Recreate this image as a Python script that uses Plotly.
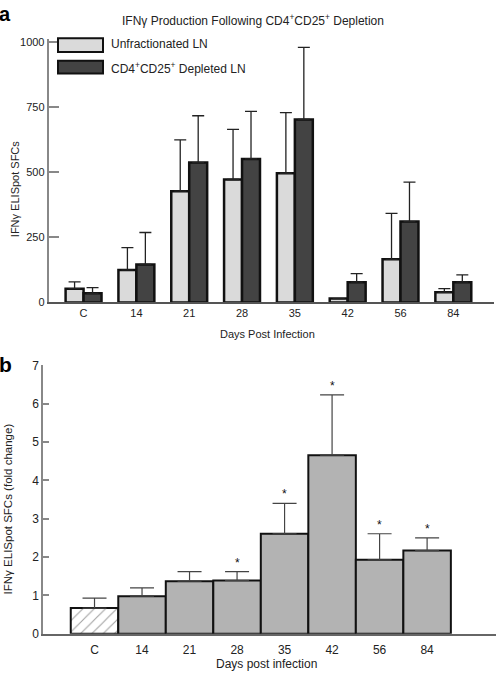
import plotly.graph_objects as go

W, H = 496, 678

days = ["C", "14", "21", "28", "35", "42", "56", "84"]

# Panel a
unfrac_vals = [53, 125, 428, 473, 497, 15, 166, 39]
unfrac_err = [26, 86, 197, 193, 233, 0, 177, 14]
depleted_vals = [35, 146, 538, 552, 704, 78, 311, 78]
depleted_err = [22, 123, 180, 183, 277, 33, 152, 28]
a_yticks = [0, 250, 500, 750, 1000]

# Panel b
fold_vals = [0.67, 0.98, 1.37, 1.39, 2.61, 4.66, 1.93, 2.17]
fold_err = [0.26, 0.22, 0.25, 0.23, 0.79, 1.57, 0.68, 0.33]
fold_sig = [False, False, False, True, True, True, True, True]
b_yticks = [0, 1, 2, 3, 4, 5, 6, 7]

FONT = "Liberation Sans, Arial, sans-serif"
TXT = "#222222"


def px(x):
    return x / W


def py(y):
    return 1 - y / H


fig = go.Figure()

fig.add_trace(go.Bar(
    x=days, y=unfrac_vals, name="Unfractionated LN",
    marker=dict(color="#dadada", line=dict(color="#111111", width=2.5)),
    error_y=dict(type="data", array=unfrac_err, arrayminus=[0] * len(days), symmetric=False,
                 color="#222222", thickness=1.3, width=6),
    xaxis="x", yaxis="y", showlegend=False,
))
fig.add_trace(go.Bar(
    x=days, y=depleted_vals, name="CD4+CD25+ Depleted LN",
    marker=dict(color="#434343", line=dict(color="#111111", width=2.5)),
    error_y=dict(type="data", array=depleted_err, arrayminus=[0] * len(days), symmetric=False,
                 color="#222222", thickness=1.3, width=6),
    xaxis="x", yaxis="y", showlegend=False,
))

b_colors = ["white" if d == "C" else "#b3b3b3" for d in days]
b_shapes = ["/" if d == "C" else "" for d in days]
fig.add_trace(go.Bar(
    x=days, y=fold_vals, width=1.0,
    marker=dict(color=b_colors, line=dict(color="#111111", width=2),
                pattern=dict(shape=b_shapes, fgcolor="#1a1a1a", fillmode="overlay",
                             size=8, solidity=0.14)),
    error_y=dict(type="data", array=fold_err, arrayminus=[0] * len(days), symmetric=False,
                 color="#444444", thickness=1.2, width=12),
    xaxis="x2", yaxis="y2", showlegend=False,
))

annotations = []
for i, (v, e, s) in enumerate(zip(fold_vals, fold_err, fold_sig)):
    if s:
        annotations.append(dict(x=i, y=v + e, xref="x2", yref="y2", text="*", showarrow=False,
                                xanchor="center", yanchor="bottom", yshift=0,
                                font=dict(family=FONT, size=12, color="#111")))

# titles / labels
annotations += [
    dict(text="<b>a</b>", x=px(-3), y=py(-6), xref="paper", yref="paper", xanchor="left", yanchor="top",
         showarrow=False, font=dict(family=FONT, size=20, color="#000")),
    dict(text="<b>b</b>", x=px(-3), y=py(351), xref="paper", yref="paper", xanchor="left", yanchor="top",
         showarrow=False, font=dict(family=FONT, size=21, color="#000")),
    dict(text="IFNγ Production Following CD4<sup>+</sup>CD25<sup>+</sup> Depletion", x=px(253), y=py(13),
         xref="paper", yref="paper", xanchor="center", yanchor="middle", showarrow=False,
         font=dict(family=FONT, size=12, color=TXT)),
    dict(text="IFNγ ELISpot SFCs", x=px(15), y=py(186), xref="paper", yref="paper", textangle=-90,
         xanchor="center", yanchor="middle", showarrow=False, font=dict(family=FONT, size=11, color=TXT)),
    dict(text="Days Post Infection", x=px(267), y=py(334), xref="paper", yref="paper",
         xanchor="center", yanchor="middle", showarrow=False, font=dict(family=FONT, size=11, color=TXT)),
    dict(text="IFNγ ELISpot SFCs (fold change)", x=px(8), y=py(513), xref="paper", yref="paper", textangle=-90,
         xanchor="center", yanchor="middle", showarrow=False, font=dict(family=FONT, size=11.5, color=TXT)),
    dict(text="Days post infection", x=px(266), y=py(671), xref="paper", yref="paper",
         xanchor="center", yanchor="middle", showarrow=False, font=dict(family=FONT, size=12, color=TXT)),
    dict(text="Unfractionated LN", x=px(109), y=py(38), xref="paper", yref="paper",
         xanchor="left", yanchor="middle", showarrow=False, font=dict(family=FONT, size=12, color=TXT)),
    dict(text="CD4<sup>+</sup>CD25<sup>+</sup> Depleted LN", x=px(109), y=py(62), xref="paper", yref="paper",
         xanchor="left", yanchor="middle", showarrow=False, font=dict(family=FONT, size=12, color=TXT)),
]

shapes = [
    dict(type="rect", xref="paper", yref="paper", x0=px(58), x1=px(103), y0=py(46), y1=py(32),
         fillcolor="#dadada", line=dict(color="#111111", width=2)),
    dict(type="rect", xref="paper", yref="paper", x0=px(58), x1=px(103), y0=py(68), y1=py(55),
         fillcolor="#434343", line=dict(color="#111111", width=2)),
]

fig.update_layout(
    width=W, height=H,
    margin=dict(l=0, r=0, t=0, b=0),
    paper_bgcolor="white", plot_bgcolor="white",
    barmode="group", bargap=0.32, bargroupgap=0,
    font=dict(family=FONT, color=TXT),
    annotations=annotations, shapes=shapes,
    xaxis=dict(domain=[px(48.7), px(494)], anchor="y", type="category",
               range=[-0.66, 7.77], showline=True, linecolor="#555555", linewidth=1.5,
               ticks="", showgrid=False, zeroline=False, tickfont=dict(size=11, color=TXT)),
    yaxis=dict(domain=[py(301.7), py(33)], anchor="x", range=[0, 1012],
               tickvals=a_yticks, showline=True, linecolor="#888888", linewidth=2,
               ticks="inside", ticklen=10, tickcolor="#888888", tickwidth=1.5,
               showgrid=False, zeroline=False, tickfont=dict(size=11, color=TXT)),
    xaxis2=dict(domain=[px(43.3), 1.0], anchor="y2", type="category",
                range=[-1.078, 8.45], showline=True, linecolor="#666666", linewidth=1.5,
                ticks="", showgrid=False, zeroline=False, ticklabelstandoff=4,
                tickfont=dict(size=12, color=TXT)),
    yaxis2=dict(domain=[py(640), py(366)], anchor="x2", range=[0, 7],
                tickvals=b_yticks, showline=True, linecolor="#888888", linewidth=2,
                ticks="inside", ticklen=6, tickcolor="#888888", tickwidth=1.5,
                showgrid=False, zeroline=False, tickfont=dict(size=12, color=TXT)),
)

fig.write_html("out.html", config={"displayModeBar": False},
               post_script="document.body.style.margin='0px';document.body.style.overflow='hidden';")
